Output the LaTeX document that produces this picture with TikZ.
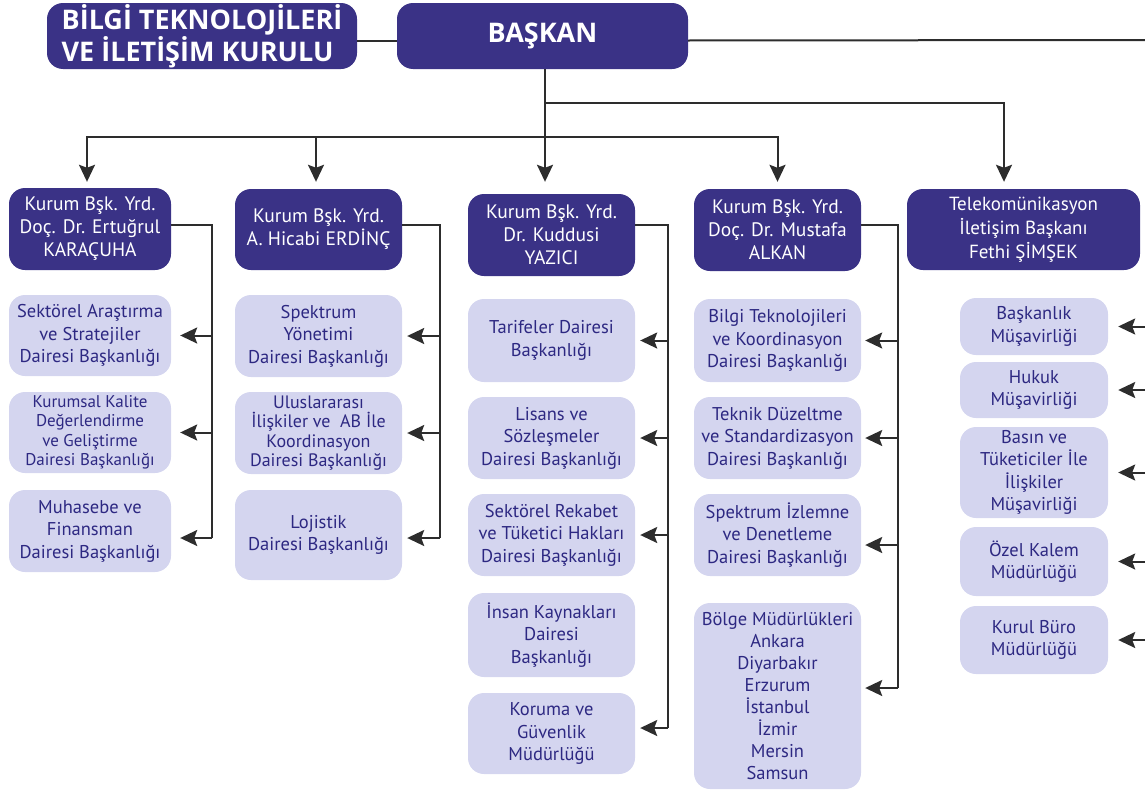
\documentclass[tikz,border=0pt]{standalone}
\usepackage{fontspec}
\setmainfont{PT Sans}
\newfontfamily\titlefont{Open Sans}
\usetikzlibrary{arrows.meta}
\definecolor{dkblue}{RGB}{58,50,134}
\definecolor{ltblue}{RGB}{212,213,239}
\definecolor{txblue}{RGB}{45,40,130}
\definecolor{lnclr}{RGB}{45,45,45}
\begin{document}
\begin{tikzpicture}[x=1pt,y=-1pt,
  box/.style={rounded corners=16pt, align=center, inner sep=0pt},
  topbox/.style={box, fill=dkblue, text=white, font=\titlefont\bfseries\fontsize{27}{28}\selectfont},
  dark/.style={box, fill=dkblue, text=white, font=\fontsize{19.5}{23}\selectfont},
  light/.style={box, fill=ltblue, text=txblue, font=\fontsize{18.5}{22.5}\selectfont},
  conn/.style={draw=lnclr, line width=2pt},
  arr/.style={conn, -{Stealth[length=17pt,width=16pt,inset=3pt]}}]
\useasboundingbox (0,0) rectangle (1145,790);

% top level
\node[topbox, align=left, minimum width=310pt, minimum height=66pt] (kurul) at (202,36) {BİLGİ TEKNOLOJİLERİ\\VE İLETİŞİM KURULU};
\node[topbox, minimum width=291pt, minimum height=66pt] (bas) at (542.5,36) {BAŞKAN};

% second level
\node[dark, minimum width=162pt, minimum height=82pt] (d1) at (90,229) {Kurum Bşk. Yrd.\\Doç. Dr. Ertuğrul\\KARAÇUHA};
\node[dark, minimum width=167pt, minimum height=81pt] (d2) at (318.5,229.5) {Kurum Bşk. Yrd.\\A. Hicabi ERDİNÇ};
\node[dark, minimum width=167pt, minimum height=82pt] (d3) at (551.5,235) {Kurum Bşk. Yrd.\\Dr. Kuddusi\\YAZICI};
\node[dark, minimum width=167pt, minimum height=82pt] (d4) at (777.5,230) {Kurum Bşk. Yrd.\\Doç. Dr. Mustafa\\ALKAN};
\node[dark, minimum width=233pt, minimum height=81pt, font=\fontsize{19}{24}\selectfont] (d5) at (1023.5,229.5) {Telekomünikasyon\\İletişim Başkanı\\Fethi ŞİMŞEK};

% column 1
\node[light, minimum width=162pt, minimum height=81pt] (l11) at (90,335.5) {Sektörel Araştırma\\ve Stratejiler\\Dairesi Başkanlığı};
\node[light, minimum width=162pt, minimum height=81pt, font=\fontsize{17}{19.5}\selectfont] (l12) at (90,432.5) {Kurumsal Kalite\\Değerlendirme\\ve Geliştirme\\Dairesi Başkanlığı};
\node[light, minimum width=162pt, minimum height=82pt] (l13) at (90,531) {Muhasebe ve\\Finansman\\Dairesi Başkanlığı};
% column 2
\node[light, minimum width=167pt, minimum height=82pt] (l21) at (318.5,336) {Spektrum\\Yönetimi\\Dairesi Başkanlığı};
\node[light, minimum width=167pt, minimum height=82pt, font=\fontsize{18}{19.5}\selectfont] (l22) at (318.5,433) {Uluslararası\\İlişkiler ve~~AB İle\\Koordinasyon\\Dairesi Başkanlığı};
\node[light, minimum width=167pt, minimum height=90pt] (l23) at (318.5,535) {Lojistik\\Dairesi Başkanlığı};
% column 3
\node[light, minimum width=167pt, minimum height=83pt] (l31) at (551.5,340.5) {Tarifeler Dairesi\\Başkanlığı};
\node[light, minimum width=167pt, minimum height=82pt] (l32) at (551.5,438) {Lisans ve\\Sözleşmeler\\Dairesi Başkanlığı};
\node[light, minimum width=167pt, minimum height=82pt] (l33) at (551.5,535) {Sektörel Rekabet\\ve Tüketici Hakları\\Dairesi Başkanlığı};
\node[light, minimum width=167pt, minimum height=84pt] (l34) at (551.5,635) {İnsan Kaynakları\\Dairesi\\Başkanlığı};
\node[light, minimum width=167pt, minimum height=81pt] (l35) at (551.5,733.5) {Koruma ve\\Güvenlik\\Müdürlüğü};
% column 4
\node[light, minimum width=167pt, minimum height=83pt] (l41) at (777.5,340.5) {Bilgi Teknolojileri\\ve Koordinasyon\\Dairesi Başkanlığı};
\node[light, minimum width=167pt, minimum height=82pt] (l42) at (777.5,438) {Teknik Düzeltme\\ve Standardizasyon\\Dairesi Başkanlığı};
\node[light, minimum width=167pt, minimum height=82pt] (l43) at (777.5,535) {Spektrum İzlemne\\ve Denetleme\\Dairesi Başkanlığı};
\node[light, minimum width=167pt, minimum height=186pt, font=\fontsize{18.5}{22}\selectfont] (l44) at (777.5,696) {Bölge Müdürlükleri\\Ankara\\Diyarbakır\\Erzurum\\İstanbul\\İzmir\\Mersin\\Samsun};
% column 5
\begin{scope}[every node/.append style={font=\fontsize{17}{20}\selectfont}]
\node[light, minimum width=148pt, minimum height=57pt] (l51) at (1034,326.5) {Başkanlık\\Müşavirliği};
\node[light, minimum width=148pt, minimum height=56pt] (l52) at (1034,390) {Hukuk\\Müşavirliği};
\node[light, minimum width=148pt, minimum height=91pt] (l53) at (1034,472.5) {Basın ve\\Tüketiciler İle\\İlişkiler\\Müşavirliği};
\node[light, minimum width=148pt, minimum height=69pt] (l54) at (1034,561.5) {Özel Kalem\\Müdürlüğü};
\node[light, minimum width=148pt, minimum height=68pt] (l55) at (1034,640) {Kurul Büro\\Müdürlüğü};
\end{scope}

% coordinates
\coordinate (redge) at (1145,40);
\coordinate (jA) at (545,103);
\coordinate (jB) at (545,137);
\coordinate (b1) at (212,538);
\coordinate (b2) at (440,538);
\coordinate (b3) at (668,728);
\coordinate (b4) at (898,688);

% top connectors
\draw[conn] ([yshift=-4.5pt]kurul.east) -- ([yshift=-4.5pt]bas.west);
\draw[conn] ([yshift=-4.5pt]bas.east) -- (redge);
\draw[conn] (bas.south -| jA) -- (jA);
\draw[arr, shorten >=7pt] (jA) -| ([xshift=-19.5pt]d5.north);
\draw[arr, shorten >=12pt] (jA) -- (jA |- d3.north);
\draw[arr, shorten >=6pt] (jB) -| ([xshift=-3pt]d1.north);
\draw[arr, shorten >=7pt] (jB) -| ([xshift=-2.5pt]d2.north);
\draw[arr, shorten >=7pt] (jB) -| (d4.north);

% column 1
\draw[conn] ([yshift=4pt]d1.east) -| (b1);
\draw[arr, shorten >=9pt] (b1 |- l11.east) -- (l11.east);
\draw[arr, shorten >=9pt] (b1 |- l12.east) -- (l12.east);
\draw[arr, shorten >=9pt] (b1) -- (b1 -| l13.east);
% column 2
\draw[conn] ([yshift=4.5pt]d2.east) -| (b2);
\draw[arr, shorten >=5pt] (b2 |- l21.east) -- (l21.east);
\draw[arr, shorten >=5pt] (b2 |- l22.east) -- (l22.east);
\draw[arr, shorten >=5pt] (b2) -- (b2 -| l23.east);
% column 3
\draw[conn] ([yshift=10pt]d3.east) -| (b3);
\draw[arr, shorten >=5pt] (b3 |- l31.east) -- (l31.east);
\draw[arr, shorten >=5pt] (b3 |- l32.east) -- (l32.east);
\draw[arr, shorten >=5pt] (b3 |- l33.east) -- (l33.east);
\draw[arr, shorten >=5pt] (b3) -- (b3 -| l35.east);
% column 4
\draw[conn] ([yshift=5pt]d4.east) -| (b4);
\draw[arr, shorten >=4pt] (b4 |- l41.east) -- (l41.east);
\draw[arr, shorten >=4pt] (b4 |- l42.east) -- (l42.east);
\draw[arr, shorten >=4pt] ([yshift=-10pt]l43.east -| b4) -- ([yshift=-10pt]l43.east);
\draw[arr, shorten >=4pt] (b4) -- (b4 -| l44.east);
% column 5
\draw[arr, shorten >=10pt] (redge |- l51.east) -- (l51.east);
\draw[arr, shorten >=10pt] (redge |- l52.east) -- (l52.east);
\draw[arr, shorten >=10pt] (redge |- l53.east) -- (l53.east);
\draw[arr, shorten >=10pt] (redge |- l54.east) -- (l54.east);
\draw[arr, shorten >=10pt] (redge |- l55.east) -- (l55.east);
\end{tikzpicture}
\end{document}
